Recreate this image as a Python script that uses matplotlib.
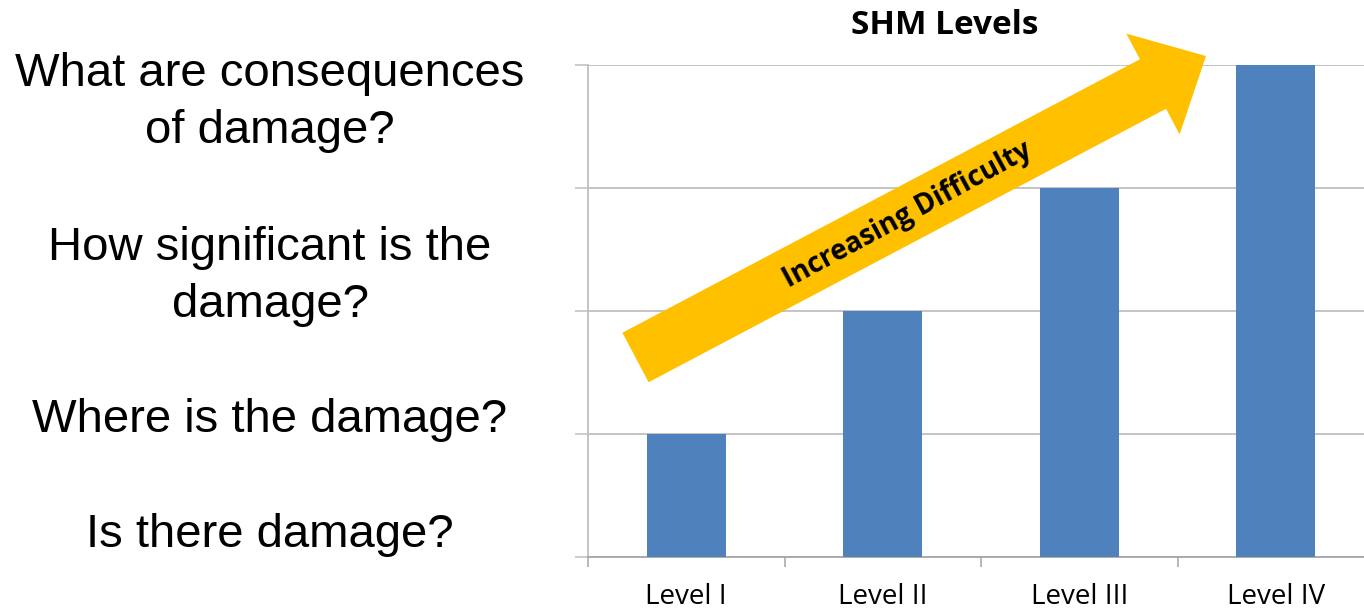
import matplotlib
matplotlib.use("Agg")
import matplotlib.pyplot as plt
from matplotlib.patches import FancyArrow

# Datos del grafico
niveles = ['Level I', 'Level II', 'Level III', 'Level IV']
valores = [1, 2, 3, 4]
preguntas = [
    'What are consequences\nof damage?',
    'How significant is the\ndamage?',
    'Where is the damage?',
    'Is there damage?',
]
titulo = 'SHM Levels'
texto_flecha = 'Increasing Difficulty'

W, H = 1364, 608
fig = plt.figure(figsize=(W / 100, H / 100), dpi=100)

# Ejes de las barras (en pixeles de la imagen)
izq, der, arriba, abajo = 588, 1374, 65, 557
ax = fig.add_axes([izq / W, (H - abajo) / H, (der - izq) / W, (abajo - arriba) / H])
x = range(len(niveles))
ax.bar(x, valores, width=0.4, color='#4F81BD', zorder=3)
ax.set_xlim(-0.5, len(niveles) - 0.5)
ax.set_ylim(0, 4)
ax.set_yticks([0, 1, 2, 3, 4])
ax.set_yticklabels([])
ax.grid(axis='y', color='#BFBFBF', linewidth=1.3, zorder=0)
ax.tick_params(axis='y', length=9.4, width=1.1, color='#BFBFBF', direction='out')
ax.set_xticks(list(x))
ax.set_xticklabels(niveles, fontsize=20, family='Open Sans')
ax.tick_params(axis='x', which='major', length=0, pad=19)
ax.set_xticks([i - 0.5 for i in x], minor=True)
ax.tick_params(axis='x', which='minor', length=7.2, width=1.1, color='#A6A6A6')
for lado in ['top', 'right']:
    ax.spines[lado].set_visible(False)
ax.spines['left'].set_color('#BFBFBF')
ax.spines['bottom'].set_color('#A6A6A6')
ax.spines['left'].set_linewidth(1.3)
ax.spines['bottom'].set_linewidth(1.3)

# Capa superior para la flecha y los textos, en pixeles
capa = fig.add_axes([0, 0, 1, 1], zorder=5)
capa.set_xlim(0, W)
capa.set_ylim(H, 0)
capa.axis('off')

cola = (635.5, 357.5)
punta = (1206, 56)
flecha = FancyArrow(cola[0], cola[1], punta[0] - cola[0], punta[1] - cola[1],
                    width=56, head_width=114, head_length=60,
                    length_includes_head=True, color='#FFC000', linewidth=0)
capa.add_patch(flecha)
capa.text(907, 215, texto_flecha, rotation=28.4, ha='center', va='center',
          fontsize=20, fontweight='bold', family='Open Sans', rotation_mode='anchor')

capa.text(945, 34, titulo, ha='center', va='baseline', fontsize=24,
          fontweight='bold', family='Open Sans')

# Preguntas a la izquierda
lineas_base = [86, 260, 432, 547]
for texto, yb in zip(preguntas, lineas_base):
    partes = texto.split('\n')
    for k, parte in enumerate(partes):
        capa.text(270, yb + 57 * k, parte, ha='center', va='baseline',
                  fontsize=34, family='Liberation Sans')

plt.savefig('out.png', dpi=100)
